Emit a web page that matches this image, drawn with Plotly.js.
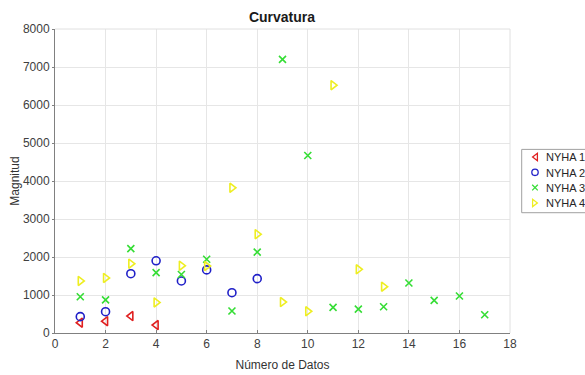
<!DOCTYPE html>
<html>
<head>
<meta charset="utf-8">
<script src="https://cdn.plot.ly/plotly-3.0.1.min.js"></script>
<style>html,body{margin:0;padding:0;background:#fff;overflow:hidden;}#chart{width:585px;height:375px;}</style>
</head>
<body>
<div id="chart"></div>
<script>
const seriesNames = ["NYHA 1", "NYHA 2", "NYHA 3", "NYHA 4"];
const x1 = [1, 2, 3, 4];
const y1 = [270, 310, 445, 210];
const x2 = [1, 2, 3, 4, 5, 6, 7, 8];
const y2 = [430, 560, 1560, 1900, 1370, 1660, 1060, 1430];
const x3 = [1, 2, 3, 4, 5, 6, 7, 8, 9, 10, 11, 12, 13, 14, 15, 16, 17];
const y3 = [955, 870, 2220, 1590, 1540, 1940, 580, 2130, 7200, 4670, 675, 630, 690, 1315, 860, 975, 480];
const x4 = [1, 2, 3, 4, 5, 6, 7, 8, 9, 10, 11, 12, 13];
const y4 = [1370, 1450, 1825, 805, 1770, 1760, 3820, 2600, 815, 570, 6520, 1675, 1220];

const font = "Liberation Sans, Arial, sans-serif";
const mk = (sym, col, sz) => ({symbol: sym, size: sz, color: col, line: {color: col, width: 1.6}});

const traces = [
  {x: x1, y: y1, name: seriesNames[0], type: "scatter", mode: "markers", marker: mk("triangle-left-open", "#e02020", 8)},
  {x: x2, y: y2, name: seriesNames[1], type: "scatter", mode: "markers", marker: mk("circle-open", "#2020c8", 8)},
  {x: x3, y: y3, name: seriesNames[2], type: "scatter", mode: "markers", marker: mk("x-thin-open", "#35dd35", 7)},
  {x: x4, y: y4, name: seriesNames[3], type: "scatter", mode: "markers", marker: mk("triangle-right-open", "#eeee22", 8)}
];

const layout = {
  width: 585, height: 375,
  margin: {l: 55, r: 75, t: 29, b: 42, autoexpand: false},
  paper_bgcolor: "#fff", plot_bgcolor: "#fff",
  font: {family: font, size: 12, color: "#404040"},
  title: {text: "<b>Curvatura</b>", font: {family: font, size: 14, color: "#1a1a1a"}, x: 0.482, xanchor: "center", y: 0.955, yanchor: "middle"},
  xaxis: {
    range: [0, 18], dtick: 2, tick0: 0, showgrid: true, gridcolor: "#e6e6e6", gridwidth: 1,
    zeroline: false, showline: true, linecolor: "#808080", linewidth: 1, mirror: false,
    ticks: "inside", ticklen: 3, tickcolor: "#808080",
    tickfont: {family: font, size: 12, color: "#404040"},
    title: {text: "Número de Datos", font: {family: font, size: 12, color: "#333"}, standoff: 10}
  },
  yaxis: {
    range: [0, 8000], dtick: 1000, tick0: 0, showgrid: true, gridcolor: "#e6e6e6", gridwidth: 1,
    zeroline: false, showline: true, linecolor: "#808080", linewidth: 1,
    ticks: "outside", ticklen: 2, tickcolor: "#808080",
    tickfont: {family: font, size: 12, color: "#404040"},
    title: {text: "Magnitud", font: {family: font, size: 12, color: "#333"}, standoff: 0}
  },
  shapes: [
    {type: "line", xref: "paper", yref: "paper", x0: 1, x1: 1, y0: 0, y1: 1, line: {color: "#e0e0e0", width: 1}},
    {type: "line", xref: "paper", yref: "paper", x0: 0, x1: 1, y0: 1, y1: 1, line: {color: "#e0e0e0", width: 1}},
    {type: "rect", xref: "paper", yref: "paper", x0: 1.0257, x1: 1.18, y0: 0.3957, y1: 0.604,
     line: {color: "#a0a0a0", width: 1}, fillcolor: "#fff", layer: "above"}
  ],
  showlegend: true,
  legend: {
    x: 0.99, xanchor: "left", y: 0.62, yanchor: "top",
    bgcolor: "rgba(0,0,0,0)", borderwidth: 0,
    font: {family: font, size: 11, color: "#262626"},
    tracegroupgap: 0, itemwidth: 30
  }
};

function parseT(el) {
  const t = el.getAttribute("transform") || "";
  const m = t.match(/translate\(\s*([-\d.e]+)[ ,]+([-\d.e]+)\s*\)/);
  return m ? [parseFloat(m[1]), parseFloat(m[2])] : [0, 0];
}

Plotly.newPlot("chart", traces, layout, {displayModeBar: false, staticPlot: true}).then(gd => {
  const items = gd.querySelectorAll(".legend .traces");
  const textLeft = 546, symX = 535, firstY = 157.3, step = 15.3, sc = 0.8;
  items.forEach((it, i) => {
    const txt = it.querySelector(".legendtext");
    const r = txt.getBoundingClientRect();
    const cy = r.top + r.height / 2;
    const [a, b] = parseT(it);
    it.setAttribute("transform", `translate(${a + (textLeft - r.left)},${b + (firstY + i * step - cy)})`);
    const pts = it.querySelector(".legendpoints");
    if (pts) {
      const pr = pts.getBoundingClientRect();
      const pc = pr.left + pr.width / 2;
      const bb = pts.getBBox();
      const cx = bb.x + bb.width / 2, cyl = bb.y + bb.height / 2;
      const tx = symX - pc;
      pts.setAttribute("transform", `translate(${tx + cx},${cyl}) scale(${sc}) translate(${-cx},${-cyl})`);
    }
  });
});
</script>
</body>
</html>
